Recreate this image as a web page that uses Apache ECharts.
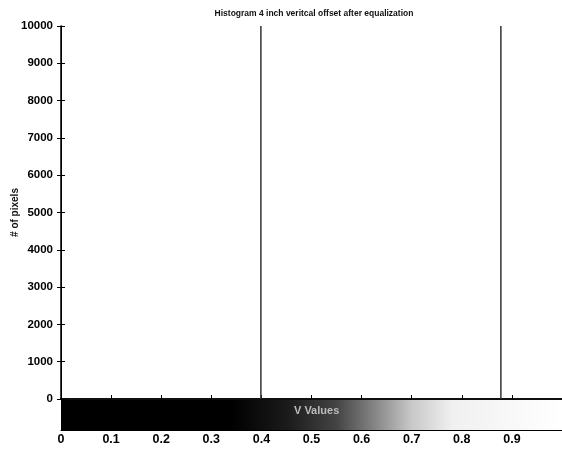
<!DOCTYPE html>
<html>
<head>
<meta charset="utf-8">
<script src="https://cdn.jsdelivr.net/npm/echarts@6/dist/echarts.min.js"></script>
<style>
  html, body { margin: 0; padding: 0; background: #fff; }
  #chart { width: 562px; height: 449px; }
</style>
</head>
<body>
<div id="chart"></div>
<script>
// histogram spikes (bin position, count) - both run off the top of the axis
var binPositions = [0.399, 0.878];
var binCounts = [10000, 10000];
var yTicks = [0, 1000, 2000, 3000, 4000, 5000, 6000, 7000, 8000, 9000, 10000];
var xTickLabels = ['0', '0.1', '0.2', '0.3', '0.4', '0.5', '0.6', '0.7', '0.8', '0.9'];
var titleText = 'Histogram 4 inch veritcal offset after equalization';
var yName = '# of pixels';
var barName = 'V Values';

var font = 'Liberation Sans, Arial, sans-serif';

var spikes = [];
for (var i = 0; i < binPositions.length; i++) {
    spikes.push([binPositions[i], binCounts[i]]);
}

var myChart = echarts.init(document.getElementById('chart'));

var option = {
    animation: false,
    backgroundColor: '#fff',
    title: {
        text: titleText, left: 309, top: 4, textAlign: 'center',
        textStyle: { fontFamily: font, fontSize: 8.5, fontWeight: 'bold', color: '#111' }
    },
    grid: [
        { left: 61, right: 0, top: 26, height: 373, outerBoundsMode: 'none', containLabel: false },
        { left: 61, right: 0, top: 400, height: 30, outerBoundsMode: 'none', containLabel: false }
    ],
    xAxis: [
        {
            gridIndex: 0, type: 'value', min: 0, max: 1, interval: 0.1,
            axisLine: { show: true, lineStyle: { color: '#000', width: 1.5 } },
            axisTick: { show: true, inside: true, length: 4, lineStyle: { color: '#000' } },
            axisLabel: { show: false }, splitLine: { show: false }
        },
        {
            gridIndex: 0, type: 'value', position: 'top', min: 0, max: 1, interval: 0.1,
            axisLine: { show: true, lineStyle: { color: '#000', width: 1.5 } },
            axisTick: { show: true, inside: true, length: 4, lineStyle: { color: '#000' } },
            axisLabel: { show: false }, splitLine: { show: false }
        },
        {
            gridIndex: 1, type: 'value', min: 0, max: 1, interval: 0.1,
            axisLine: { show: true, lineStyle: { color: '#000', width: 1 } },
            axisTick: { show: true, inside: true, length: 4, lineStyle: { color: '#000' } },
            axisLabel: {
                show: true, margin: 3, color: '#000', fontFamily: font, fontSize: 12.5, fontWeight: 'bold',
                formatter: function (v) {
                    var k = Math.round(v * 10);
                    return k < xTickLabels.length ? xTickLabels[k] : '';
                }
            },
            splitLine: { show: false }
        }
    ],
    yAxis: [
        {
            gridIndex: 0, type: 'value', min: 0, max: 10000, interval: 1000,
            name: yName, nameLocation: 'middle', nameGap: 41, nameRotate: 90, nameMoveOverlap: false,
            nameTextStyle: { fontFamily: font, fontSize: 10, fontWeight: 'bold', color: '#111' },
            axisLine: { show: true, lineStyle: { color: '#000', width: 1.5 } },
            axisTick: { show: true, inside: true, length: 4, lineStyle: { color: '#000' } },
            axisLabel: {
                margin: 8, color: '#000', fontFamily: font, fontSize: 11.5, fontWeight: 'bold',
                formatter: function (v) { return yTicks.indexOf(v) >= 0 ? String(v) : ''; }
            },
            splitLine: { show: false }
        },
        {
            gridIndex: 0, type: 'value', position: 'right', min: 0, max: 10000, interval: 1000,
            axisLine: { show: true, lineStyle: { color: '#000', width: 1 } },
            axisTick: { show: true, inside: true, length: 4, lineStyle: { color: '#000' } },
            axisLabel: { show: false }, splitLine: { show: false }
        },
        {
            gridIndex: 1, type: 'value', min: 0, max: 1,
            axisLine: { show: false }, axisTick: { show: false },
            axisLabel: { show: false }, splitLine: { show: false }
        }
    ],
    series: [
        {
            type: 'bar', xAxisIndex: 0, yAxisIndex: 0, data: spikes,
            barWidth: 1.5, itemStyle: { color: '#333' }
        },
        {
            // grey-level colour bar under the histogram
            type: 'line', xAxisIndex: 2, yAxisIndex: 2,
            data: [[0, 1], [1, 1]], symbol: 'none',
            lineStyle: { width: 0 },
            areaStyle: {
                opacity: 1,
                color: new echarts.graphic.LinearGradient(0, 0, 1, 0, [
                    { offset: 0, color: '#000' },
                    { offset: 0.34, color: '#000' },
                    { offset: 0.45, color: '#1a1a1a' },
                    { offset: 0.55, color: '#444' },
                    { offset: 0.62, color: '#808080' },
                    { offset: 0.7, color: '#c8c8c8' },
                    { offset: 0.78, color: '#f0f0f0' },
                    { offset: 1, color: '#fff' }
                ])
            }
        }
    ],
    graphic: [
        {
            type: 'text', left: 294, top: 405, z: 10,
            style: { text: barName, fill: '#bbb', font: 'bold 11px ' + font }
        }
    ]
};

myChart.setOption(option);
</script>
</body>
</html>
